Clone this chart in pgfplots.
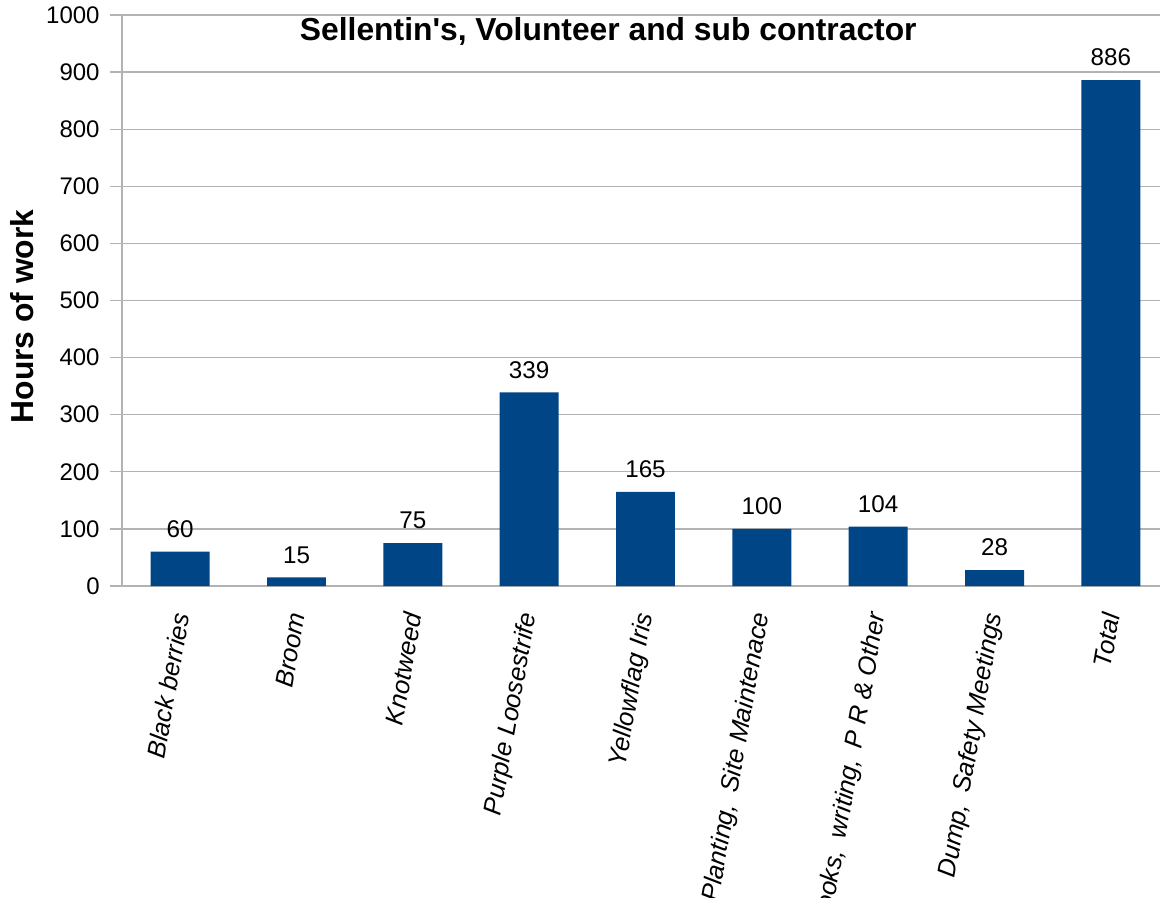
\documentclass[border=0pt]{standalone}
\usepackage{pgfplots}
\pgfplotsset{compat=1.18}
\usepackage{fontspec}
\setmainfont{Liberation Sans}
\definecolor{barblue}{RGB}{0,69,134}
\definecolor{gridgray}{RGB}{179,179,179}
\newcommand{\gap}{\hspace{0.45em}}

\begin{document}
\begin{tikzpicture}
\begin{axis}[
    name=ax,
    scale only axis,
    width=523.5pt, height=285.5pt,
    xmin=-0.5, xmax=8.5,
    ymin=0, ymax=1000,
    ytick={0,100,...,1000},
    xtick={0,...,8},
    xticklabels={Black berries, Broom, Knotweed, Purple Loosestrife, Yellowflag Iris,
        {Planting,\gap Site Maintenace}, {Books,\gap writing,\gap P R \& Other},
        {Dump,\gap Safety Meetings}, Total},
    major x tick style={draw=none},
    extra x ticks={-0.5,0.5,...,8.5},
    extra x tick labels={},
    extra x tick style={grid=none, major tick length=6pt, tick style={gridgray, line width=0.6pt}},
    axis lines*=left,
    axis line style={gridgray, line width=0.6pt},
    tick align=outside,
    major tick length=6pt,
    tick style={gridgray, line width=0.6pt},
    ymajorgrids,
    grid style={gridgray, line width=0.6pt},
    yticklabel style={font=\fontsize{12}{14}\selectfont, inner sep=0pt, xshift=-5pt},
    xticklabel style={font=\fontsize{12.7}{14}\selectfont\itshape, yshift=-6.5pt, xshift=0.5pt,
        rotate=80, anchor=east, inner sep=1pt},
    /pgf/number format/assume math mode=true,
    /pgf/number format/set thousands separator={},
    ybar,
    bar width=0.507,
    nodes near coords,
    every node near coord/.append style={font=\fontsize{12.1}{14}\selectfont, black, yshift=3.5pt},
]
\addplot[fill=barblue, draw=none] coordinates {
    (0,60) (1,15) (2,75) (3,339) (4,165) (5,100) (6,104) (7,28) (8,886)
};
\node[font=\fontsize{15.9}{18}\selectfont\bfseries, anchor=base] at (axis cs:3.68,956)
    {Sellentin\textquotesingle s, Volunteer and sub contractor};
\end{axis}
\node[font=\fontsize{15.9}{18}\selectfont\bfseries, rotate=90, anchor=center]
    at ([xshift=-50pt,yshift=-8pt]ax.west) {Hours of work};
\pgfresetboundingbox
\path[use as bounding box] ([xshift=-61pt,yshift=-156pt]ax.south west)
    rectangle ([xshift=519pt,yshift=293pt]ax.south west);
\end{tikzpicture}
\end{document}
